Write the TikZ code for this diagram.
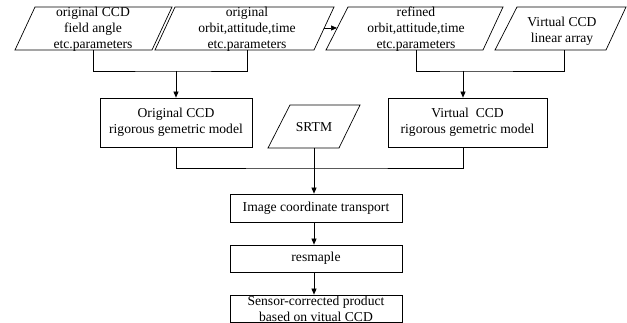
\documentclass[tikz,border=0pt]{standalone}
\usepackage{fontspec}
\setmainfont{Liberation Serif}
\usetikzlibrary{arrows.meta}
\begin{document}
\begin{tikzpicture}[x=1pt,y=-1pt,
  line/.style={draw=black,line width=0.7pt},
  arr/.style={line,-{Triangle[length=6pt,width=5pt]}},
  txt/.style={align=center,font=\fontsize{13.6}{16}\selectfont,inner sep=0pt},
  box/.style={line,rectangle,inner sep=0pt,align=center,font=\fontsize{13.6}{16}\selectfont}]
\useasboundingbox (0,0) rectangle (627,323);
% parallelograms
\draw[line] (35,7) -- (172,7) -- (152,50) -- (15,50) -- cycle;
\node[txt] (p1) at (93,29) {original CCD\\field angle\\etc.parameters};
\draw[line] (175,7) -- (334,7) -- (314,50) -- (155,50) -- cycle;
\node[txt] (p2) at (247,29) {original\\orbit,attitude,time\\etc.parameters};
\draw[line] (348,7) -- (503,7) -- (483,50) -- (326,50) -- cycle;
\node[txt] (p3) at (416,29) {refined\\orbit,attitude,time\\etc.parameters};
\draw[line] (517,7) -- (626,7) -- (606,50) -- (495,50) -- cycle;
\node[txt] (p4) at (562,31) {Virtual CCD\\linear array};
\draw[line] (290,105) -- (360,105) -- (339,148) -- (268,148) -- cycle;
\node[txt] (srtm) at (314,127) {SRTM};
% connection points
\coordinate (p1b) at (93,50);
\coordinate (p2b) at (247,50);
\coordinate (p3b) at (416,50);
\coordinate (p4b) at (564,50);
\coordinate (srtmb) at (314,148);
\coordinate (p2r) at (324,28);
\coordinate (p3l) at (337,28);
\coordinate (j1) at (176,71);
\coordinate (j2) at (463,71);
\coordinate (j3) at (314,168);
% boxes
\node[box,minimum width=152pt,minimum height=49pt] (orig) at (176,122.5) {Original CCD\\rigorous gemetric model};
\node[box,minimum width=159pt,minimum height=49pt] (virt) at (467.5,122.5) {Virtual\ \ CCD\\rigorous gemetric model};
\node[box,minimum width=172pt,minimum height=28pt] (img) at (316,208) {Image coordinate transport};
\node[box,minimum width=172pt,minimum height=27pt] (res) at (316,258.5) {resmaple};
\node[box,minimum width=172pt,minimum height=27pt] (sen) at (316,308.5) {Sensor-corrected product\\based on vitual CCD};
% connectors
\draw[arr] (p2r) -- (p3l);
\draw[line] (p1b) |- (j1) -| (p2b);
\draw[arr] (j1) -- (orig.north);
\draw[line] (p3b) |- (j2) -| (p4b);
\draw[arr] (j2) -- (virt.north -| j2);
\draw[line] (orig.south) |- (j3) -| (virt.south -| j2);
\draw[arr] (srtmb) -- (img.north -| srtmb);
\draw[arr] (img.south -| srtmb) -- (res.north -| srtmb);
\draw[arr] (res.south -| srtmb) -- (sen.north -| srtmb);
\end{tikzpicture}
\end{document}
